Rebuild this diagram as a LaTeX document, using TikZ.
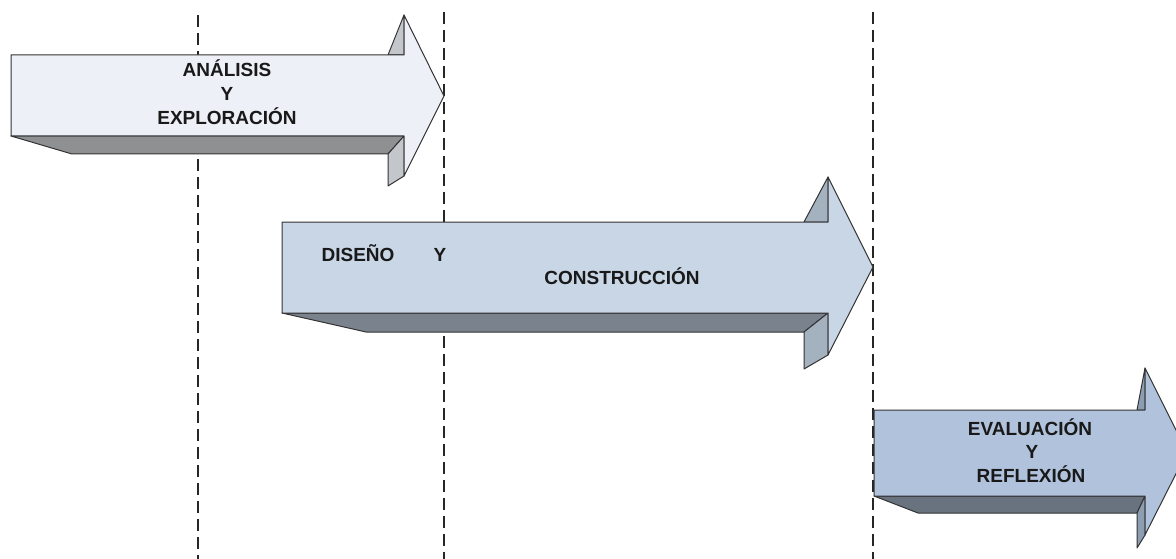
\documentclass[tikz,border=0pt]{standalone}
\usepackage{fontspec}
\setmainfont{Liberation Sans}
\begin{document}
\begin{tikzpicture}[x=1pt,y=-1pt,
  outline/.style={draw=black!80, line width=1pt, line join=round},
  guide/.style={draw=black!85, line width=1.2pt, dash pattern=on 12pt off 6pt},
  lbl/.style={anchor=base, inner sep=0pt, font=\fontsize{19}{24}\bfseries\selectfont, text=black!90}]
\useasboundingbox (0,0) rectangle (1176,559);
\definecolor{fA}{HTML}{EDF0F6}\definecolor{bA}{HTML}{8E9092}\definecolor{sA}{HTML}{C3C6CA}
\definecolor{fB}{HTML}{C8D6E6}\definecolor{bB}{HTML}{7A828D}\definecolor{sB}{HTML}{A4B1BF}
\definecolor{fC}{HTML}{B1C3DC}\definecolor{bC}{HTML}{68737F}\definecolor{sC}{HTML}{8D9DB2}
% dashed guide lines
\coordinate (g1t) at (198,15);  \coordinate (g1b) at (198,559);
\coordinate (g2t) at (444,12);  \coordinate (g2b) at (444,559);
\coordinate (g3t) at (873,12);  \coordinate (g3b) at (873,559);
\draw[guide] (g1t) -- (g1b);
\draw[guide] (g2t) -- (g2b);
\draw[guide] (g3t) -- (g3b);
% arrow 1
\filldraw[outline, fill=bA] (11,136) -- (72,154) -- (388,154) -- (404,136) -- cycle;
\filldraw[outline, fill=sA] (388,154) -- (388,186) -- (404,176) -- (404,136) -- cycle;
\filldraw[outline, fill=sA] (388,55) -- (404,15) -- (404,55) -- cycle;
\filldraw[outline, fill=fA] (11,55) -- (404,55) -- (404,15) -- (444,96) -- (404,176) -- (404,136) -- (11,136) -- cycle;
% arrow 2
\filldraw[outline, fill=bB] (282,313) -- (366,332) -- (804,332) -- (828,313) -- cycle;
\filldraw[outline, fill=sB] (804,332) -- (804,369) -- (828,355) -- (828,313) -- cycle;
\filldraw[outline, fill=sB] (804,222) -- (828,177) -- (828,222) -- cycle;
\filldraw[outline, fill=fB] (282,222) -- (828,222) -- (828,177) -- (873,267) -- (828,355) -- (828,313) -- (282,313) -- cycle;
% arrow 3
\filldraw[outline, fill=bC] (874,496) -- (918,513) -- (1137,513) -- (1145,496) -- cycle;
\filldraw[outline, fill=sC] (1137,513) -- (1137,548) -- (1145,535) -- (1145,496) -- cycle;
\filldraw[outline, fill=sC] (1137,410) -- (1145,368) -- (1145,410) -- cycle;
\filldraw[outline, fill=fC] (874,410) -- (1145,410) -- (1145,368) -- (1187,452) -- (1145,535) -- (1145,496) -- (874,496) -- cycle;
% labels
\node[lbl] (a1) at (227,77) {ANÁLISIS};
\node[lbl] (a2) at (227,101) {Y};
\node[lbl] (a3) at (227,125) {EXPLORACIÓN};
\node[lbl] (b1) at (358,261) {DISEÑO};
\node[lbl] (b2) at (440,261) {Y};
\node[lbl] (b3) at (622,284) {CONSTRUCCIÓN};
\node[lbl] (c1) at (1030,435) {EVALUACIÓN};
\node[lbl] (c2) at (1032,458) {Y};
\node[lbl] (c3) at (1031,482) {REFLEXIÓN};
\end{tikzpicture}
\end{document}
